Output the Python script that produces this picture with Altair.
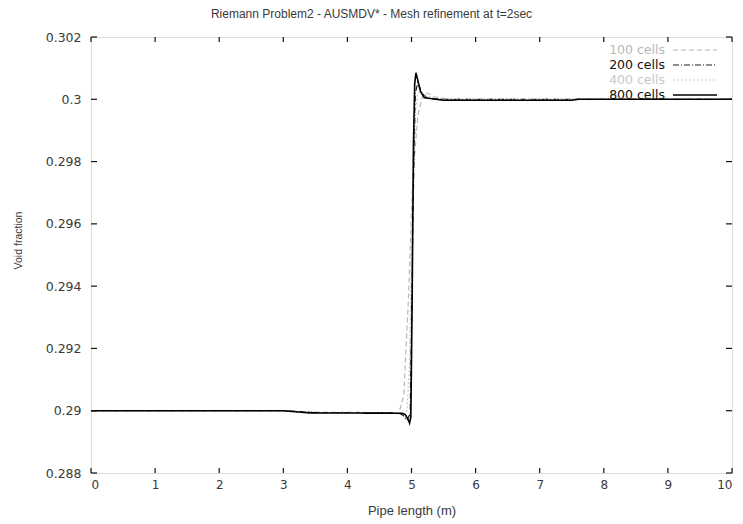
import altair as alt
import pandas as pd

# ---- data ----
series_names = ["100 cells", "200 cells", "400 cells", "800 cells"]

x_100 = [0.0, 3.0, 3.6, 4.7, 4.8, 4.88, 4.95, 5.02, 5.1, 5.18, 5.25, 5.35, 5.6, 10.0]
y_100 = [0.29, 0.29, 0.28995, 0.28994, 0.2899, 0.2905, 0.2935, 0.2975, 0.2995, 0.30015, 0.3002, 0.30008, 0.3, 0.3]

x_200 = [0.0, 3.0, 3.5, 4.8, 4.87, 4.93, 4.98, 5.02, 5.06, 5.1, 5.16, 5.25, 5.5, 10.0]
y_200 = [0.29, 0.29, 0.28994, 0.28993, 0.28985, 0.2897, 0.2899, 0.296, 0.3002, 0.30055, 0.3002, 0.30003, 0.3, 0.3]

x_400 = [0.0, 3.0, 3.45, 4.82, 4.88, 4.93, 4.97, 5.01, 5.05, 5.1, 5.15, 5.22, 5.4, 10.0]
y_400 = [0.29, 0.29, 0.28993, 0.28993, 0.2899, 0.29, 0.2915, 0.2965, 0.2995, 0.3002, 0.30025, 0.30012, 0.3, 0.3]

x_800 = [0.0, 3.0, 3.4, 4.85, 4.9, 4.94, 4.97, 4.99, 5.01, 5.03, 5.05, 5.07, 5.1, 5.14, 5.2, 5.5, 7.5, 7.6, 10.0]
y_800 = [0.29, 0.29, 0.28993, 0.28992, 0.28988, 0.28975, 0.2896, 0.2898, 0.2935, 0.2985, 0.3005, 0.30085, 0.3006, 0.30025, 0.30005, 0.29997, 0.29997, 0.3, 0.3]

x_ticks = [0, 1, 2, 3, 4, 5, 6, 7, 8, 9, 10]
y_ticks = [0.288, 0.29, 0.292, 0.294, 0.296, 0.298, 0.3, 0.302]

colors = ["#b8b8b8", "#1a1a1a", "#c8c8c8", "#000000"]
dashes = [[5, 3], [6, 2, 1, 2], [2, 2], [1, 0]]
widths = [1.2, 1.2, 1.2, 1.6]

W, H = 641, 436
FONT = "Liberation Sans"
LFONT = "DejaVu Sans"
TXT = "#3a3a3a"

rows = []
for name, xs, ys in zip(series_names, [x_100, x_200, x_400, x_800], [y_100, y_200, y_400, y_800]):
    for a, b in zip(xs, ys):
        rows.append({"series": name, "x": a, "y": b})
df = pd.DataFrame(rows)

xs_ = alt.Scale(domain=[0, 10], nice=False, zero=False)
ys_ = alt.Scale(domain=[0.288, 0.302], nice=False, zero=False)

base_x = alt.X("x:Q", scale=xs_,
               axis=alt.Axis(values=x_ticks, format="d", ticks=False, domain=False, grid=False,
                             labelFont=LFONT, labelFontSize=12, labelColor=TXT, labelPadding=6,
                             title="Pipe length (m)", titleFont=FONT, titleFontSize=13,
                             titleFontWeight="normal", titleColor=TXT,
                             titleX=W / 2, titleY=37, titleBaseline="middle", titleAlign="center"))
base_y = alt.Y("y:Q", scale=ys_,
               axis=alt.Axis(values=y_ticks, format="~g", ticks=False, domain=False, grid=False,
                             labelFont=LFONT, labelFontSize=12.5, labelColor=TXT, labelPadding=10,
                             title="Void fraction", titleFont=FONT, titleFontSize=10.5,
                             titleFontWeight="normal", titleColor=TXT,
                             titleX=-73, titleY=203, titleAngle=-90,
                             titleBaseline="middle", titleAlign="center"))

layers = []
for i, name in enumerate(series_names):
    layers.append(
        alt.Chart(df[df.series == name]).mark_line(
            color=colors[i], strokeDash=dashes[i], strokeWidth=widths[i], clip=True
        ).encode(x=base_x, y=base_y, order=alt.Order("x:Q"))
    )

# inward ticks (bottom/top and left/right)
xt = pd.DataFrame({"x": x_ticks})
yt = pd.DataFrame({"y": y_ticks})
layers.append(alt.Chart(xt).mark_rule(color="#111", strokeWidth=1.2).encode(
    x=alt.X("x:Q", scale=xs_), y=alt.value(H), y2=alt.value(H - 5)))
layers.append(alt.Chart(xt).mark_rule(color="#111", strokeWidth=1.2).encode(
    x=alt.X("x:Q", scale=xs_), y=alt.value(0), y2=alt.value(5)))
layers.append(alt.Chart(yt).mark_rule(color="#111", strokeWidth=1.2).encode(
    y=alt.Y("y:Q", scale=ys_), x=alt.value(0), x2=alt.value(6)))
layers.append(alt.Chart(yt).mark_rule(color="#111", strokeWidth=1.2).encode(
    y=alt.Y("y:Q", scale=ys_), x=alt.value(W), x2=alt.value(W - 6)))

# manual gnuplot-style legend (text, then line sample)
for i, name in enumerate(series_names):
    ly = 13 + 15 * i
    ldf = pd.DataFrame({"label": [name]})
    layers.append(alt.Chart(ldf).mark_text(
        align="right", baseline="middle", font=LFONT, fontSize=12.5,
        color=colors[i] if i in (0, 2) else "#111"
    ).encode(text="label:N", x=alt.value(574), y=alt.value(ly)))
    layers.append(alt.Chart(ldf).mark_rule(
        color=colors[i], strokeDash=dashes[i], strokeWidth=widths[i]
    ).encode(x=alt.value(582), x2=alt.value(626), y=alt.value(ly)))

chart = alt.layer(*layers).properties(
    width=W, height=H,
    title=alt.TitleParams("Riemann Problem2 - AUSMDV* - Mesh refinement at t=2sec",
                          font=FONT, fontSize=12, fontWeight="normal", color=TXT,
                          anchor="middle", frame="group", dx=-40, offset=10),
    autosize=alt.AutoSizeParams(type="none"),
    padding={"left": 91, "top": 37, "right": 11, "bottom": 51},
).configure_view(stroke="#1a1a1a", strokeWidth=1.6).configure(background="white")

chart.save("out.html", embed_options={"renderer": "svg", "actions": False})
